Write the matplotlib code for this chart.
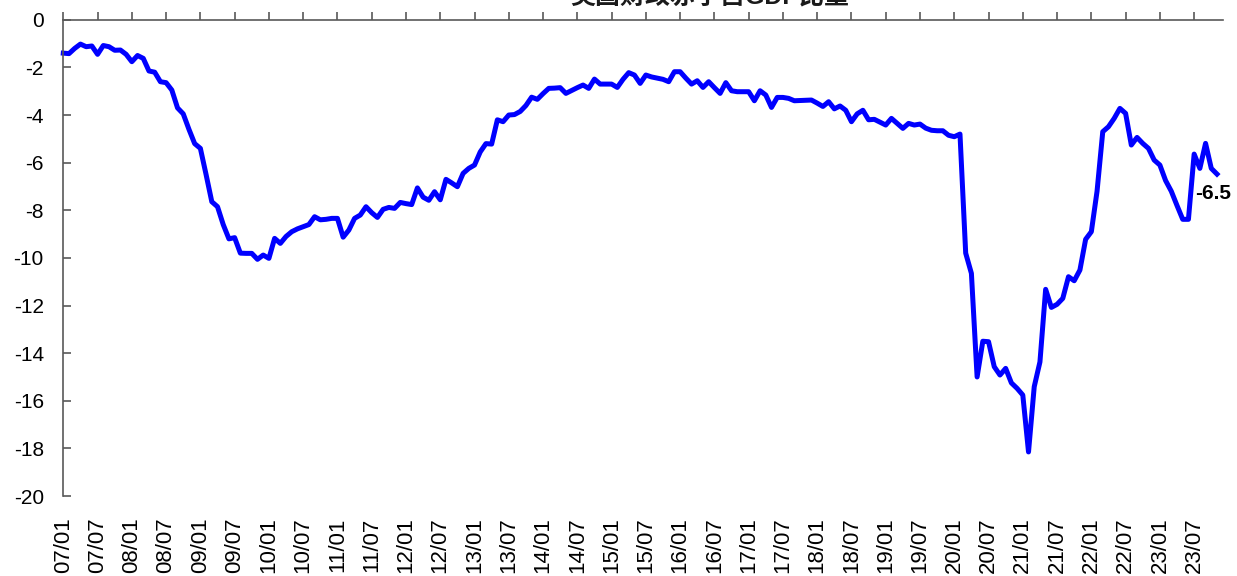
import numpy as np
import matplotlib
matplotlib.use("Agg")
import matplotlib.pyplot as plt

plt.rcParams['font.family'] = ['Liberation Sans', 'Noto Sans CJK SC', 'DejaVu Sans']
plt.rcParams['axes.unicode_minus'] = False

title = "美国财政赤字占GDP比重"
start_month = "2007-01"

# monthly values, 2007/01 .. 2023/11
values = [
    -1.40, -1.42, -1.20, -1.02, -1.13, -1.10, -1.45, -1.08, -1.13, -1.28,
    -1.27, -1.45, -1.76, -1.50, -1.62, -2.15, -2.20, -2.60, -2.64, -2.95,
    -3.70, -3.95, -4.60, -5.20, -5.40, -6.50, -7.64, -7.85, -8.60, -9.20,
    -9.15, -9.80, -9.81, -9.81, -10.06, -9.88, -10.02, -9.18, -9.39, -9.10,
    -8.90, -8.78, -8.69, -8.60, -8.27, -8.40, -8.38, -8.34, -8.34, -9.13,
    -8.83, -8.34, -8.20, -7.85, -8.10, -8.30, -7.96, -7.88, -7.92, -7.67,
    -7.72, -7.76, -7.06, -7.45, -7.58, -7.22, -7.56, -6.70, -6.85, -7.01,
    -6.45, -6.24, -6.10, -5.55, -5.20, -5.22, -4.20, -4.28, -4.00, -3.98,
    -3.85, -3.60, -3.25, -3.34, -3.10, -2.88, -2.87, -2.85, -3.09, -2.97,
    -2.85, -2.74, -2.88, -2.49, -2.70, -2.70, -2.70, -2.84, -2.50, -2.22,
    -2.32, -2.67, -2.32, -2.40, -2.45, -2.50, -2.60, -2.18, -2.18, -2.45,
    -2.70, -2.56, -2.84, -2.60, -2.85, -3.09, -2.64, -2.98, -3.02, -3.02,
    -3.02, -3.40, -2.98, -3.16, -3.68, -3.26, -3.26, -3.30, -3.40, -3.39,
    -3.38, -3.37, -3.50, -3.64, -3.44, -3.74, -3.62, -3.80, -4.28, -3.95,
    -3.80, -4.20, -4.18, -4.30, -4.42, -4.14, -4.35, -4.56, -4.35, -4.42,
    -4.38, -4.55, -4.64, -4.66, -4.66, -4.85, -4.91, -4.80, -9.80, -10.65,
    -15.00, -13.50, -13.52, -14.57, -14.92, -14.64, -15.25, -15.48, -15.76, -18.15,
    -15.41, -14.37, -11.32, -12.08, -11.95, -11.70, -10.79, -10.96, -10.51, -9.22,
    -8.90, -7.20, -4.70, -4.49, -4.14, -3.72, -3.93, -5.26, -4.94, -5.19,
    -5.40, -5.89, -6.10, -6.75, -7.20, -7.80, -8.38, -8.38, -5.64, -6.24,
    -5.19, -6.24, -6.48,
]

tick_labels = [
    "07/01", "07/07", "08/01", "08/07", "09/01", "09/07", "10/01", "10/07",
    "11/01", "11/07", "12/01", "12/07", "13/01", "13/07", "14/01", "14/07",
    "15/01", "15/07", "16/01", "16/07", "17/01", "17/07", "18/01", "18/07",
    "19/01", "19/07", "20/01", "20/07", "21/01", "21/07", "22/01", "22/07",
    "23/01", "23/07",
]
y_ticks = [0, -2, -4, -6, -8, -10, -12, -14, -16, -18, -20]

W, H = 1237, 576
fig = plt.figure(figsize=(W / 100, H / 100), dpi=100)
ax = fig.add_axes([63.3 / W, 1 - 496 / H, (1222.7 - 63.3) / W, (496 - 19.8) / H])

x = np.arange(len(values))
ax.plot(x, values, color="#0000FF", lw=3.6, solid_joinstyle="round", clip_on=False)

ax.set_xlim(0, len(values))
ax.set_ylim(-20, 0)

spine_color = "#595959"
for s in ["right", "bottom"]:
    ax.spines[s].set_visible(False)
for s in ["left", "top"]:
    ax.spines[s].set_color(spine_color)
    ax.spines[s].set_linewidth(1.2)

tick_pos = np.arange(len(tick_labels)) * 6
ax.set_xticks(tick_pos)
ax.set_xticklabels(tick_labels, rotation=90, fontsize=16, color="black")
ax.tick_params(axis="x", top=True, bottom=False, labeltop=False, labelbottom=True,
               direction="out", length=5.5, width=1.2, color=spine_color, pad=10)

ax.set_yticks(y_ticks)
ax.set_yticklabels([str(v) for v in y_ticks], fontsize=15, color="black")
ax.tick_params(axis="y", direction="in", length=5.5, width=1.2, color=spine_color, pad=14)

ax.annotate(f"{values[-1]:.1f}", xy=(x[-1], values[-1]), xytext=(-16, -14),
            textcoords="offset points", ha="left", va="center",
            fontsize=15, fontweight="bold", color="black", annotation_clip=False)

fig.text(710 / W, 1 - 8 / H, title, ha="center", va="bottom",
         fontsize=18, fontweight="bold", color="#1a1a1a")

fig.savefig("out.png", dpi=100)
